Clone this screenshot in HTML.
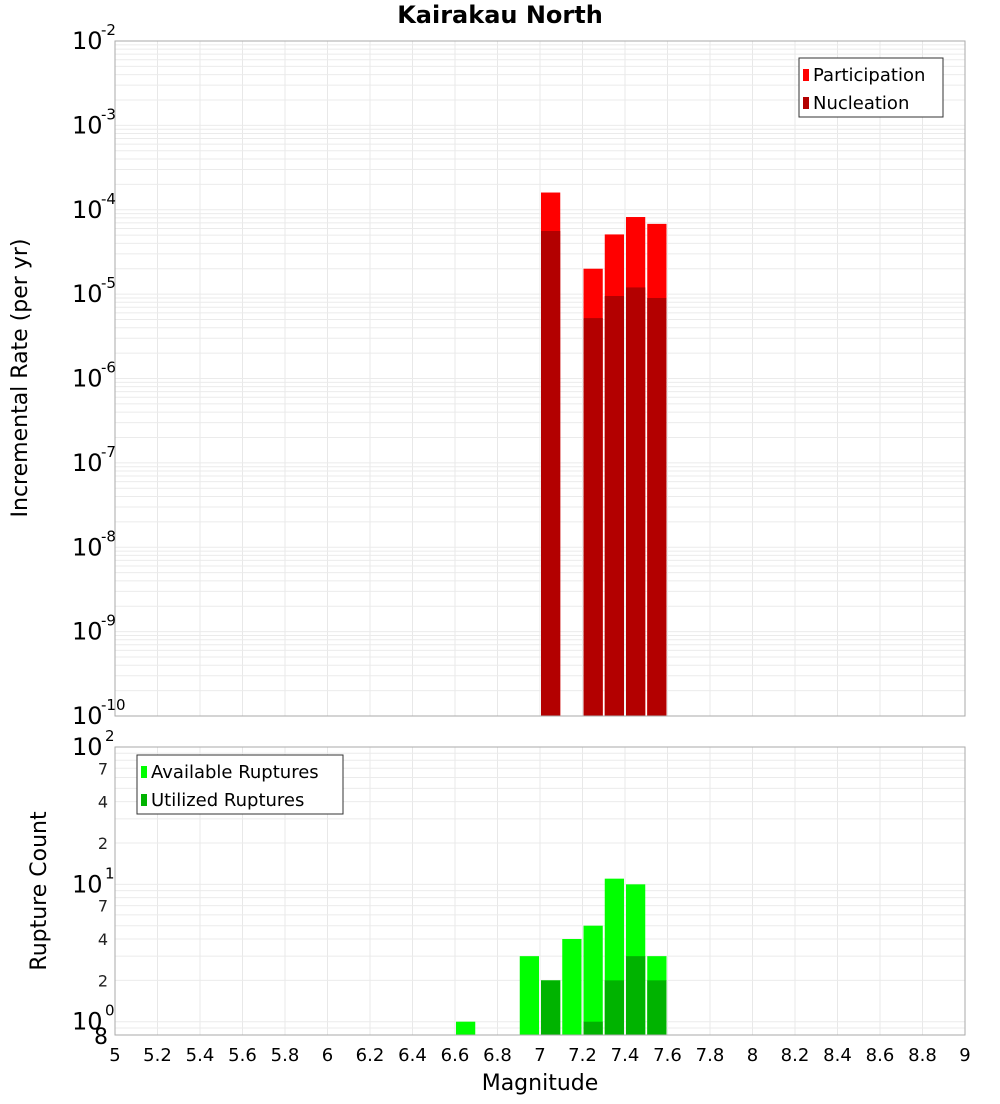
<!DOCTYPE html>
<html><head><meta charset="utf-8"><style>
body{margin:0;background:#fff;font-family:"DejaVu Sans","Liberation Sans",sans-serif}
</style></head><body>
<svg id="c" width="1000" height="1100" xmlns="http://www.w3.org/2000/svg" font-family="DejaVu Sans, Liberation Sans, sans-serif">
<text x="500" y="23" text-anchor="middle" font-size="24" font-weight="bold">Kairakau North</text>
<g id="top"></g><g id="bot"></g>
<text transform="translate(27,378) rotate(-90)" text-anchor="middle" font-size="22">Incremental Rate (per yr)</text>
<text transform="translate(46,891) rotate(-90)" text-anchor="middle" font-size="22">Rupture Count</text>
<text x="540" y="1090" text-anchor="middle" font-size="22">Magnitude</text>
</svg>
<script>
const binCenters=[7.05,7.25,7.35,7.45,7.55];
const participation=[1.6e-4,2.0e-5,5.1e-5,8.2e-5,6.8e-5];
const nucleation=[5.6e-5,5.2e-6,9.5e-6,1.2e-5,9.0e-6];
const countCenters=[6.65,6.95,7.05,7.15,7.25,7.35,7.45,7.55];
const available=[1,3,2,4,5,11,10,3];
const utilized=[0,0,2,0,1,2,3,2];
const xTicks=[5,5.2,5.4,5.6,5.8,6,6.2,6.4,6.6,6.8,7,7.2,7.4,7.6,7.8,8,8.2,8.4,8.6,8.8,9];
const NS="http://www.w3.org/2000/svg";
const X0=115,X1=965;
const xs=m=>X0+(m-5)/4*(X1-X0);
const T0=41,T1=716, yt=v=>T0+(-2-Math.log10(v))/8*(T1-T0);
const B0=747,B1=1035, yb=v=>B0+(2-Math.log10(v))/(2-Math.log10(0.8))*(B1-B0);
function el(p,t,a,txt){const e=document.createElementNS(NS,t);for(const k in a)e.setAttribute(k,a[k]);if(txt!=null)e.textContent=txt;p.appendChild(e);return e;}
const gTop=document.getElementById('top'),gBot=document.getElementById('bot');
function grid(g,y0,y1,yf,decs,minV){
  el(g,'rect',{x:X0,y:y0,width:X1-X0,height:y1-y0,fill:'#fff'});
  for(let m=5;m<=9.001;m+=0.2){el(g,'line',{x1:xs(m),x2:xs(m),y1:y0,y2:y1,stroke:'#e8e8e8'});}
  for(const d of decs)for(let k=1;k<10;k++){const v=k*Math.pow(10,d);if(v<minV)continue;const y=yf(v);if(y<y0-0.5||y>y1+0.5)continue;el(g,'line',{x1:X0,x2:X1,y1:y,y2:y,stroke:'#ebebeb'});}
}
grid(gTop,T0,T1,yt,[-10,-9,-8,-7,-6,-5,-4,-3,-2],1e-10);
grid(gBot,B0,B1,yb,[-1,0,1,2],0.8);
const bw=0.1*(X1-X0)/4-2;
binCenters.forEach((m,i)=>{
  const b=el(gTop,'rect',{x:xs(m)-bw/2,y:yt(participation[i]),width:bw,height:T1-yt(participation[i]),fill:'#ff0000'});
  
  
  const n=el(gTop,'rect',{x:xs(m)-bw/2,y:yt(nucleation[i]),width:bw,height:T1-yt(nucleation[i]),fill:'#b30000'});
  
  
});
countCenters.forEach((m,i)=>{
  if(available[i]>0){const b=el(gBot,'rect',{x:xs(m)-bw/2,y:yb(available[i]),width:bw,height:B1-yb(available[i]),fill:'#00ff00'});
  
  }
  if(utilized[i]>0){const n=el(gBot,'rect',{x:xs(m)-bw/2,y:yb(utilized[i]),width:bw,height:B1-yb(utilized[i]),fill:'#00b300'});
  
  }
});
el(gTop,'rect',{x:X0,y:T0,width:X1-X0,height:T1-T0,fill:'none',stroke:'#aaa'});
el(gBot,'rect',{x:X0,y:B0,width:X1-X0,height:B1-B0,fill:'none',stroke:'#aaa'});
for(let d=-10;d<=-2;d++){const y=yt(Math.pow(10,d));
  const t=el(gTop,'text',{x:72,y:y+8,'font-size':24},'10');
  
  
  el(gTop,'text',{x:101,y:y-6,'font-size':15},String(d));}
for(const d of [0,1,2]){const y=yb(Math.pow(10,d));el(gBot,'text',{x:72,y:y+8,'font-size':24},'10');el(gBot,'text',{x:105,y:y-6,'font-size':15},String(d));}
for(const d of [0,1])for(const k of [2,4,7]){const y=yb(k*Math.pow(10,d));el(gBot,'text',{x:108,y:y+6,'font-size':16,'text-anchor':'end',fill:'#222'},String(k));}
el(gBot,'text',{x:108,y:B1+9,'font-size':22,'text-anchor':'end'},'8');
xTicks.forEach(m=>{const t=el(gBot,'text',{x:xs(m),y:1061,'font-size':18,'text-anchor':'middle'},String(m));
  
  });
function legend(g,x,y,w,items){const L=el(g,'g',{});
  
  
  el(L,'rect',{x:x,y:y,width:w,height:59,fill:'#fff',stroke:'#333'});
  items.forEach((it,i)=>{el(L,'rect',{x:x+4,y:y+11+i*28,width:6,height:12,fill:it[1]});el(L,'text',{x:x+14,y:y+23+i*28,'font-size':18},it[0]);});}
legend(gTop,799,58,144,[['Participation','#ff0000'],['Nucleation','#b30000']]);
legend(gBot,137,755,206,[['Available Ruptures','#00ff00'],['Utilized Ruptures','#00b300']]);
</script>
</body></html>
